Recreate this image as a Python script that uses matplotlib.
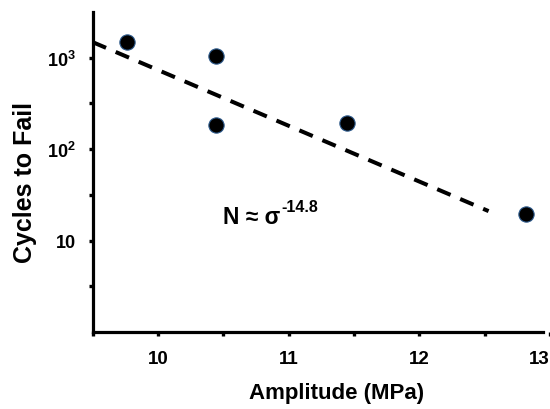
import numpy as np
import matplotlib
matplotlib.use("Agg")
import matplotlib.pyplot as plt
from matplotlib.ticker import FixedLocator, NullFormatter

plt.rcParams['font.family'] = ['Liberation Sans', 'DejaVu Sans']
plt.rcParams['font.weight'] = 'bold'
plt.rcParams['mathtext.fontset'] = 'custom'
plt.rcParams['mathtext.rm'] = 'Liberation Sans:bold'
plt.rcParams['mathtext.bf'] = 'Liberation Sans:bold'
plt.rcParams['mathtext.it'] = 'Liberation Sans:bold'

# fatigue test results
amplitude = [9.76, 10.44, 10.44, 11.445, 12.82]   # MPa
cycles = [1490, 1045, 183, 193, 19.3]

# trend line end points
fit_x = [9.5, 12.53]
fit_n = [1480, 21]
fit_label = 'N ≈ σ'
fit_power = '-14.8'

x_ticks = [10, 11, 12, 13]
x_minor = [9.5, 10.5, 11.5, 12.5]
y_ticks = [10, 100, 1000]
y_ticklabels = ['10', r'$\mathbf{10^{2}}$', r'$\mathbf{10^{3}}$']
y_minor = [10**0.5, 10**1.5, 10**2.5]

fig = plt.figure(figsize=(5.5, 4.1), dpi=100)
ax = fig.add_axes([92.7 / 550, 1 - 333 / 410, 457.3 / 550, 320 / 410])

ax.plot(fit_x, fit_n, color='black', lw=2.9, linestyle=(0, (3.6, 2.6)),
        dash_capstyle='butt', zorder=2, clip_on=False)

ax.plot(amplitude, cycles, 'o', color='black', markersize=11,
        markeredgecolor='#2d5a8c', markeredgewidth=0.8, zorder=3)

ax.set_yscale('log')
ax.set_xlim(9.5, 13.0)
ax.set_ylim(1, 10**3.5)

ax.set_xticks(x_ticks)
ax.set_xticklabels([str(t) for t in x_ticks])
ax.get_xticklabels()[-1].set_horizontalalignment('right')
ax.xaxis.set_minor_locator(FixedLocator(x_minor))
ax.set_yticks(y_ticks)
ax.set_yticklabels(y_ticklabels)
ax.yaxis.set_minor_locator(FixedLocator(y_minor))
ax.yaxis.set_minor_formatter(NullFormatter())

for side in ['top', 'right']:
    ax.spines[side].set_visible(False)
for side in ['left', 'bottom']:
    ax.spines[side].set_linewidth(2.3)
ax.spines['bottom'].set_bounds(9.5, 12.95)

ax.tick_params(which='both', direction='out', length=3, width=2.4, colors='black')
ax.tick_params(axis='y', which='major', labelsize=13, pad=9)
ax.tick_params(axis='x', which='major', labelsize=13.5, pad=10)

ax.set_xlabel('Amplitude (MPa)', fontsize=16, fontweight='bold')
ax.set_ylabel('Cycles to Fail', fontsize=18, fontweight='bold')
ax.xaxis.set_label_coords(0.534, -0.156)
ax.yaxis.set_label_coords(-0.122, 0.470)

eq = ax.text(10.498, 15.4, fit_label, fontsize=16.5, fontweight='bold',
             ha='left', va='baseline')
ax.annotate(fit_power, xy=(1.0, 0.62), xycoords=eq, xytext=(1, 0),
            textcoords='offset points', fontsize=11.5, fontweight='bold',
            ha='left', va='bottom')

fig.savefig('out.png', dpi=100, facecolor='white')
